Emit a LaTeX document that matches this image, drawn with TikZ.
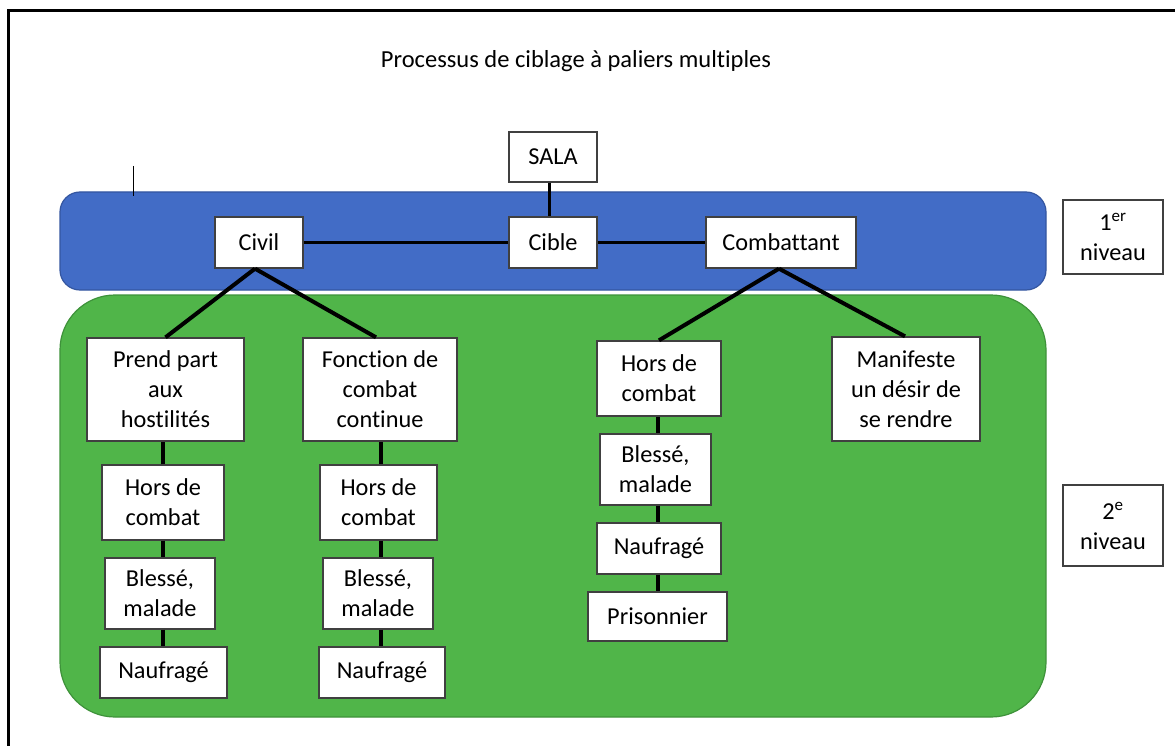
\documentclass[tikz,border=0pt]{standalone}
\usepackage{fontspec}
\setmainfont[Ligatures=NoCommon]{Carlito}
\definecolor{bandblue}{RGB}{66,108,198}
\definecolor{bandblueedge}{RGB}{52,86,160}
\definecolor{bandgreen}{RGB}{80,181,73}
\definecolor{bandgreenedge}{RGB}{62,146,58}
\newcommand{\boxfont}{\fontsize{24.3}{30}\selectfont}
\tikzset{
  box/.style={draw=black!75, line width=1.3pt, fill=white, align=center, inner sep=0pt, font=\boxfont},
  link/.style={draw=black, line width=4pt},
  band/.style={line width=1.2pt}
}
\begin{document}
\begin{tikzpicture}[x=1pt,y=-1pt]
\useasboundingbox (0,0) rectangle (1175,746);
\clip (0,0) rectangle (1175,746);
% outer frame
\draw[line width=3pt] (8,760) -- (8,11) -- (1190,11);
% title
\node[font=\fontsize{24.5}{28}\selectfont] (title) at (576,61) {Processus de ciblage à paliers multiples};
% bands
\draw[band, fill=bandblue, draw=bandblueedge, rounded corners=20pt] (60,192) rectangle (1046,290);
\draw[band, fill=bandgreen, draw=bandgreenedge, rounded corners=55pt] (60,295) rectangle (1046,717);
% stray mark
\coordinate (markA) at (133,166);
\coordinate (markB) at (133,196);
\draw[line width=0.9pt] (markA) -- (markB);
% nodes
\node[box, minimum width=88pt, minimum height=50pt] (sala) at (553,157) {SALA};
\node[box, minimum width=88pt, minimum height=51pt] (civil) at (259,242.5) {Civil};
\node[box, minimum width=88pt, minimum height=51pt] (cible) at (553,242.5) {Cible};
\node[box, minimum width=150pt, minimum height=51pt] (comb) at (781,242.5) {Combattant};
\node[box, minimum width=100pt, minimum height=74pt] (n1) at (1113,237) {1\textsuperscript{er}\\niveau};
\node[box, minimum width=100pt, minimum height=81pt] (n2) at (1113,525.5) {2\textsuperscript{e}\\niveau};
\node[box, minimum width=157pt, minimum height=103pt] (prend) at (165.5,389.5) {Prend part\\aux\\hostilités};
\node[box, minimum width=154pt, minimum height=103pt] (fonct) at (380,389.5) {Fonction de\\combat\\continue};
\node[box, minimum width=122pt, minimum height=75pt] (h1) at (163,502.5) {Hors de\\combat};
\node[box, minimum width=110pt, minimum height=71pt] (b1) at (160,593.5) {Blessé,\\malade};
\node[box, minimum width=127pt, minimum height=51pt] (f1) at (163.5,672.5) {Naufragé};
\node[box, minimum width=117pt, minimum height=75pt] (h2) at (378.5,502.5) {Hors de\\combat};
\node[box, minimum width=110pt, minimum height=71pt] (b2) at (378,593.5) {Blessé,\\malade};
\node[box, minimum width=126pt, minimum height=51pt] (f2) at (382,672.5) {Naufragé};
\node[box, minimum width=124pt, minimum height=75pt] (h3) at (659,378.5) {Hors de\\combat};
\node[box, minimum width=111pt, minimum height=71pt] (b3) at (655.5,469.5) {Blessé,\\malade};
\node[box, minimum width=124pt, minimum height=51pt] (f3) at (659,548.5) {Naufragé};
\node[box, minimum width=139pt, minimum height=49pt] (p3) at (657.5,616.5) {Prisonnier};
\node[box, minimum width=148pt, minimum height=104pt] (mani) at (906,389) {Manifeste\\un désir de\\se rendre};
% connectors
\draw[link, line width=3pt] ([xshift=-4pt]sala.south) -- ([xshift=-4pt]cible.north);
\draw[link, line width=3pt] (civil.east) -- (cible.west);
\draw[link, line width=3pt] (cible.east) -- (comb.west);
\draw[link] ([xshift=-4pt]civil.south) -- (prend.north);
\draw[link] ([xshift=-4pt]civil.south) -- ([xshift=-4pt]fonct.north);
\draw[link] ([xshift=-2pt]comb.south) -- (h3.north);
\draw[link] ([xshift=-2pt]comb.south) -- ([xshift=-1pt]mani.north);
\draw[link] (h1.north) -- (h1.north |- prend.south);
\draw[link] (h1.south) -- (h1.south |- b1.north);
\draw[link] (b1.south -| h1.south) -- (f1.north -| h1.south);
\draw[link] ([xshift=2pt]h2.north) -- ([xshift=2pt]h2.north |- fonct.south);
\draw[link] ([xshift=2pt]h2.south) -- ([xshift=2pt]h2.south |- b2.north);
\draw[link] ([xshift=2pt]b2.south -| h2.south) -- ([xshift=2pt]f2.north -| h2.south);
\draw[link] ([xshift=-1pt]h3.south) -- ([xshift=-1pt]h3.south |- b3.north);
\draw[link] ([xshift=-1pt]b3.south -| h3.south) -- ([xshift=-1pt]f3.north -| h3.south);
\draw[link] ([xshift=-1pt]f3.south) -- ([xshift=-1pt]f3.south |- p3.north);
\end{tikzpicture}
\end{document}
